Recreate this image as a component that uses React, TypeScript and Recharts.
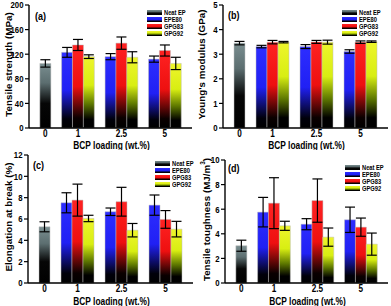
import React from 'react';
import { BarChart, Bar, XAxis, YAxis, ErrorBar, Cell } from 'recharts';

// ---------- data ----------
const categories = ['0', '1', '2.5', '5'];
const seriesNames = ['Neat EP', 'EPE80', 'GPG83', 'GPG92'];

// (a) Tensile strength (MPa)
const strengthNeat = [105];
const strengthNeatErr = [6];
const strengthEPE80 = [123, 116, 112];
const strengthEPE80Err = [8, 5, 5];
const strengthGPG83 = [135, 138, 126];
const strengthGPG83Err = [9, 10, 9];
const strengthGPG92 = [116, 115, 105];
const strengthGPG92Err = [3, 9, 10];

// (b) Young's modulus (GPa)
const modulusNeat = [3.45];
const modulusNeatErr = [0.07];
const modulusEPE80 = [3.31, 3.31, 3.11];
const modulusEPE80Err = [0.05, 0.08, 0.07];
const modulusGPG83 = [3.49, 3.5, 3.49];
const modulusGPG83Err = [0.07, 0.06, 0.05];
const modulusGPG92 = [3.49, 3.49, 3.51];
const modulusGPG92Err = [0.03, 0.08, 0.03];

// (c) Elongation at break (%)
const elongNeat = [5.27];
const elongNeatErr = [0.47];
const elongEPE80 = [7.52, 6.68, 7.3];
const elongEPE80Err = [0.94, 0.35, 0.95];
const elongGPG83 = [7.77, 7.62, 5.96];
const elongGPG83Err = [1.5, 1.35, 0.83];
const elongGPG92 = [6.05, 4.95, 5.05];
const elongGPG92Err = [0.3, 0.63, 0.73];

// (d) Tensile toughness (MJ/m3)
const toughNeat = [3.03];
const toughNeatErr = [0.45];
const toughEPE80 = [5.76, 4.78, 5.14];
const toughEPE80Err = [1.2, 0.45, 1.03];
const toughGPG83 = [6.49, 6.7, 4.54];
const toughGPG83Err = [2.07, 1.76, 0.74];
const toughGPG92 = [4.65, 3.73, 3.16];
const toughGPG92Err = [0.37, 0.74, 0.9];

const strengthTicks = [0, 40, 80, 120, 160, 200];
const modulusTicks = [0, 1, 2, 3, 4, 5];
const elongTicks = [0, 2, 4, 6, 8, 10, 12];
const toughTicks = [0, 2, 4, 6, 8, 10];

// ---------- styling ----------
const FONT = "'Liberation Sans', Arial, sans-serif";
const SX = 0.82; // horizontal squeeze of the reference's lettering

const gradDefs: [number, string][][] = [
  [[0, '#7a8e90'], [0.3, '#5c6e70'], [0.62, '#060606'], [1, '#000']],
  [[0, '#2d2dff'], [0.5, '#2020f4'], [0.88, '#00000a'], [1, '#000']],
  [[0, '#ff2222'], [0.5, '#ee1010'], [0.88, '#0a0000'], [1, '#000']],
  [[0, '#eef52c'], [0.4, '#d8ee12'], [0.66, '#5e7800'], [0.88, '#000'], [1, '#000']],
];

const cssGrad = (s: number) =>
  `linear-gradient(to bottom, ${gradDefs[s].map(([o, c]) => `${c} ${o * 100}%`).join(', ')})`;

type Row = { slot: number; v: number | null; e: number | null; s: number; label: string };

const SLOTS = 15;
function buildRows(neat: number[], neatErr: number[], groups: number[][], errs: number[][]): Row[] {
  const rows: Row[] = [];
  for (let i = 0; i < SLOTS; i++) rows.push({ slot: i, v: null, e: null, s: 0, label: '' });
  rows[1].v = neat[0];
  rows[1].e = neatErr[0];
  rows[1].s = 0;
  rows[1].label = categories[0];
  for (let g = 0; g < 3; g++) {
    for (let k = 0; k < 3; k++) {
      const r = rows[3 + 4 * g + k];
      r.v = groups[k][g];
      r.e = errs[k][g];
      r.s = k + 1;
    }
    rows[4 + 4 * g].label = categories[g + 1];
  }
  return rows;
}

const LegendBox = ({ left, top }: { left: number; top: number }) => (
  <div style={{ position: 'absolute', left, top, display: 'flex', flexDirection: 'column' }}>
    {seriesNames.map((n, i) => (
      <div key={n} style={{ display: 'flex', alignItems: 'center', height: 7, whiteSpace: 'nowrap' }}>
        <div style={{ width: 15, height: 5, background: cssGrad(i), flex: 'none' }} />
        <span
          style={{
            marginLeft: 2,
            display: 'inline-block',
            transform: `scaleX(${SX})`,
            transformOrigin: 'left center',
            fontFamily: FONT,
            fontWeight: 'bold',
            fontSize: 7,
            lineHeight: '7px',
            color: '#000',
          }}
        >
          {n}
        </span>
      </div>
    ))}
  </div>
);

type PanelProps = {
  id: string;
  rows: Row[];
  ticks: number[];
  yTitle: React.ReactNode;
  tag: string;
  left: number;
  top: number;
  width: number;
  height: number;
  marginTop: number;
  marginRight: number;
  yWidth: number;
  xHeight: number;
  titleX: number;
  titleSize: number;
  legendLeft: number;
  legendTop: number;
  tagLeft: number;
  tagTop: number;
};

function Panel(p: PanelProps) {
  const max = p.ticks[p.ticks.length - 1];
  const XTick = (tp: any) => {
    const label = p.rows[Number(tp.payload?.value)]?.label ?? '';
    if (!label) return null;
    return (
      <text
        transform={`translate(${tp.x},${tp.y}) scale(${SX},1)`}
        textAnchor="middle"
        dy="0.71em"
        fontFamily={FONT}
        fontWeight="bold"
        fontSize={10}
        fill="#000"
      >
        {label}
      </text>
    );
  };
  const YTick = (tp: any) => (
    <text
      transform={`translate(${tp.x},${tp.y}) scale(${SX},1)`}
      textAnchor="end"
      dy="0.36em"
      fontFamily={FONT}
      fontWeight="bold"
      fontSize={9.5}
      fill="#000"
    >
      {tp.payload?.value}
    </text>
  );
  return (
    <div style={{ position: 'absolute', left: p.left, top: p.top, width: p.width, height: p.height }}>
      <BarChart
        width={p.width}
        height={p.height}
        data={p.rows}
        margin={{ top: p.marginTop, right: p.marginRight, left: 0, bottom: 0 }}
        barCategoryGap={0}
        barGap={0}
      >
        <defs>
          {gradDefs.map((stops, i) => (
            <linearGradient key={i} id={`${p.id}-g${i}`} x1="0" y1="0" x2="0" y2="1">
              {stops.map(([o, c], j) => (
                <stop key={j} offset={o} stopColor={c} />
              ))}
            </linearGradient>
          ))}
        </defs>
        <XAxis
          dataKey="slot"
          type="category"
          interval={0}
          height={p.xHeight}
          tickLine={false}
          tickSize={2}
          tickMargin={0}
          axisLine={{ stroke: '#000', strokeWidth: 1.4 }}
          tick={XTick}
          label={{
            content: (lp: any) => {
              const vb = lp.viewBox || {};
              const cx = vb.x + vb.width / 2 + 1;
              const by = vb.y + p.xHeight - 1.5;
              return (
                <text
                  transform={`translate(${cx},${by}) scale(${SX},1)`}
                  textAnchor="middle"
                  fontFamily={FONT}
                  fontWeight="bold"
                  fontSize={10.2}
                  fill="#000"
                >
                  BCP loading (wt.%)
                </text>
              );
            },
          }}
        />
        <XAxis xAxisId="top" dataKey="slot" orientation="top" height={0} tick={false} tickLine={false} axisLine={{ stroke: '#000', strokeWidth: 1.4 }} />
        <YAxis
          type="number"
          domain={[0, max]}
          ticks={p.ticks}
          interval={0}
          width={p.yWidth}
          tickSize={4}
          tickMargin={1.5}
          tickLine={{ stroke: '#000', strokeWidth: 1.2 }}
          axisLine={{ stroke: '#000', strokeWidth: 1.4 }}
          tick={YTick}
          label={{
            content: (lp: any) => {
              const vb = lp.viewBox || {};
              const cy = vb.y + vb.height / 2 - 2;
              return (
                <text
                  x={p.titleX}
                  y={cy}
                  transform={`rotate(-90 ${p.titleX} ${cy})`}
                  textAnchor="middle"
                  dominantBaseline="central"
                  fontFamily={FONT}
                  fontWeight="bold"
                  fontSize={p.titleSize}
                  fill="#000"
                >
                  {p.yTitle}
                </text>
              );
            },
          }}
        />
        <YAxis yAxisId="right" orientation="right" width={0} tick={false} tickLine={false} domain={[0, max]} axisLine={{ stroke: '#000', strokeWidth: 1.4 }} />
        <Bar dataKey="v" isAnimationActive={false} stroke="#bdbdbd" strokeWidth={0.5}>
          {p.rows.map((r, i) => (
            <Cell key={i} fill={`url(#${p.id}-g${r.s})`} />
          ))}
          <ErrorBar dataKey="e" width={5} stroke="#000" strokeWidth={1.2} direction="y" />
        </Bar>
      </BarChart>
      <LegendBox left={p.legendLeft} top={p.legendTop} />
      <div
        style={{
          position: 'absolute',
          left: p.tagLeft,
          top: p.tagTop,
          transform: `scaleX(${SX})`,
          transformOrigin: 'left top',
          fontFamily: FONT,
          fontWeight: 'bold',
          fontSize: 11,
          lineHeight: '11px',
          color: '#000',
        }}
      >
        {p.tag}
      </div>
    </div>
  );
}

const rowsA = buildRows(strengthNeat, strengthNeatErr, [strengthEPE80, strengthGPG83, strengthGPG92], [strengthEPE80Err, strengthGPG83Err, strengthGPG92Err]);
const rowsB = buildRows(modulusNeat, modulusNeatErr, [modulusEPE80, modulusGPG83, modulusGPG92], [modulusEPE80Err, modulusGPG83Err, modulusGPG92Err]);
const rowsC = buildRows(elongNeat, elongNeatErr, [elongEPE80, elongGPG83, elongGPG92], [elongEPE80Err, elongGPG83Err, elongGPG92Err]);
const rowsD = buildRows(toughNeat, toughNeatErr, [toughEPE80, toughGPG83, toughGPG92], [toughEPE80Err, toughGPG83Err, toughGPG92Err]);

export default function App() {
  return (
    <div style={{ position: 'absolute', left: 0, top: 0, width: 391, height: 306, background: '#fff', overflow: 'hidden' }}>
      <Panel
        id="pa" rows={rowsA} ticks={strengthTicks} yTitle="Tensile strength (MPa)" tag="(a)"
        left={0} top={0} width={195} height={150} marginTop={5} marginRight={3} yWidth={29} xHeight={22}
        titleX={8} titleSize={9.8} legendLeft={147} legendTop={9} tagLeft={35} tagTop={11}
      />
      <Panel
        id="pb" rows={rowsB} ticks={modulusTicks} yTitle="Young's modulus (GPa)" tag="(b)"
        left={195} top={0} width={196} height={150} marginTop={5} marginRight={3} yWidth={28} xHeight={22}
        titleX={6} titleSize={9.8} legendLeft={147} legendTop={9} tagLeft={33} tagTop={10}
      />
      <Panel
        id="pc" rows={rowsC} ticks={elongTicks} yTitle="Elongation at break (%)" tag="(c)"
        left={0} top={150} width={195} height={156} marginTop={5} marginRight={2} yWidth={28} xHeight={23}
        titleX={8} titleSize={9.8} legendLeft={155} legendTop={10} tagLeft={33} tagTop={10}
      />
      <Panel
        id="pd" rows={rowsD} ticks={toughTicks}
        yTitle={<>Tensile toughness (MJ/m<tspan baselineShift="super" fontSize={6.5}>3</tspan>)</>}
        tag="(d)"
        left={195} top={150} width={196} height={156} marginTop={10} marginRight={3} yWidth={30} xHeight={23}
        titleX={11} titleSize={9.8} legendLeft={150} legendTop={14} tagLeft={33} tagTop={13}
      />
    </div>
  );
}
